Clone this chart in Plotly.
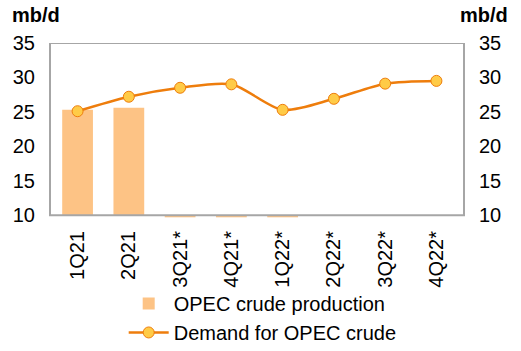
import plotly.graph_objects as go

quarters = ["1Q21", "2Q21", "3Q21*", "4Q21*", "1Q22*", "2Q22*", "3Q22*", "4Q22*"]
opec_production = [25.3, 25.6, 9.7, 9.7, 9.7, None, None, None]
opec_demand = [25.1, 27.2, 28.5, 29.0, 25.3, 26.9, 29.1, 29.5]
y_ticks = [10, 15, 20, 25, 30, 35]

font_family = "Liberation Sans, Arial, sans-serif"
FS = 20

fig = go.Figure()
fig.add_trace(go.Bar(
    x=quarters, y=[None if v is None else v - 10 for v in opec_production], base=10,
    name="OPEC crude production",
    marker=dict(color="#FDC385", line=dict(width=0)),
    width=0.6,
))
fig.add_trace(go.Scatter(
    x=quarters, y=opec_demand, name="Demand for OPEC crude",
    mode="lines+markers",
    line=dict(color="#EE7D0C", width=2.5, shape="spline", smoothing=0.8),
    marker=dict(size=11, color="#FFCB47", line=dict(color="#EE7D0C", width=1)),
))
fig.add_trace(go.Scatter(x=quarters, y=opec_demand, yaxis="y2", mode="markers",
                         marker=dict(opacity=0), showlegend=False, hoverinfo="skip"))

yax = dict(range=[9.6, 35], tickvals=y_ticks, showgrid=False, zeroline=False,
           showline=False, ticks="", automargin=False, ticklabelstandoff=14,
           tickfont=dict(size=FS, color="#000000", family=font_family))
fig.update_layout(
    width=521, height=351,
    margin=dict(l=50, r=57, t=43, b=133, autoexpand=False),
    paper_bgcolor="white", plot_bgcolor="white",
    font=dict(family=font_family, color="#000000"),
    bargap=0.4,
    xaxis=dict(tickangle=-90, showgrid=False, showline=False, ticks="", automargin=False,
               ticklabelstandoff=8,
               tickfont=dict(size=FS, color="#000000", family=font_family)),
    yaxis=dict(**yax),
    yaxis2=dict(**yax, overlaying="y", side="right"),
    legend=dict(x=0.178, xanchor="left", y=0.191, yanchor="top", yref="container",
                font=dict(size=FS, color="#000000", family=font_family),
                bgcolor="rgba(0,0,0,0)", tracegroupgap=0, itemwidth=40),
    showlegend=True,
    shapes=[dict(type="rect", xref="paper", yref="y", x0=0, x1=1, y0=10, y1=35,
                 line=dict(color="#A6A6A6", width=2), layer="above")],
    annotations=[
        dict(text="<b>mb/d</b>", xref="paper", yref="paper", x=-0.097, y=1.16,
             xanchor="left", yanchor="middle", showarrow=False,
             font=dict(size=FS, color="#000000", family=font_family)),
        dict(text="<b>mb/d</b>", xref="paper", yref="paper", x=1.111, y=1.16,
             xanchor="right", yanchor="middle", showarrow=False,
             font=dict(size=FS, color="#000000", family=font_family)),
    ],
)
fig.write_html("out.html")
